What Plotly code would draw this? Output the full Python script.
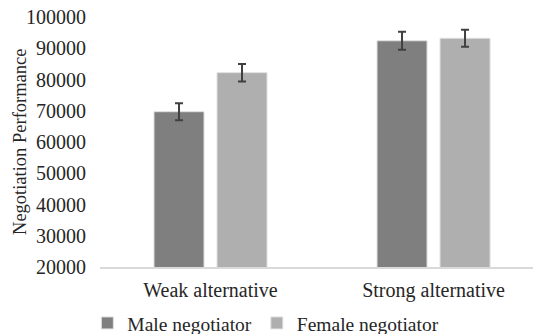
import plotly.graph_objects as go

categories = ["Weak alternative", "Strong alternative"]
male_values = [69700, 92400]
male_errors = [2700, 2900]
female_values = [82200, 93200]
female_errors = [2800, 2700]
y_ticks = [20000, 30000, 40000, 50000, 60000, 70000, 80000, 90000, 100000]
y_title = "Negotiation Performance"

FAM = "Liberation Serif"
font = dict(family=FAM, size=20, color="#262626")
legend_font = dict(family=FAM, size=19.5, color="#262626")
title_font = dict(family=FAM, size=18.5, color="#262626")

fig = go.Figure()
fig.add_trace(go.Bar(
    name="Male negotiator", x=categories, y=male_values,
    marker=dict(color="#7f7f7f", line=dict(color="#e0e0e0", width=1)),
    error_y=dict(type="data", array=male_errors, color="#404040", thickness=2, width=4),
))
fig.add_trace(go.Bar(
    name="Female negotiator", x=categories, y=female_values,
    marker=dict(color="#afafaf", line=dict(color="#e0e0e0", width=1)),
    error_y=dict(type="data", array=female_errors, color="#404040", thickness=2, width=4),
))

fig.add_annotation(text=y_title, xref="paper", yref="paper", x=-0.1848, y=0.5,
                   xanchor="center", yanchor="middle", textangle=-90, showarrow=False,
                   font=title_font)

fig.update_layout(
    width=533, height=334,
    margin=dict(l=100, r=0, t=17, b=67, autoexpand=False),
    paper_bgcolor="white", plot_bgcolor="white",
    font=font,
    barmode="group", bargap=0.435, bargroupgap=0.206,
    showlegend=True,
    legend=dict(orientation="h", x=0.383, xanchor="center", y=-0.225, yanchor="middle",
                font=legend_font, itemwidth=30, tracegroupgap=0),
    xaxis=dict(range=[-0.4955, 1.446], showline=True, linecolor="#d9d9d9", linewidth=1.5,
               ticks="", showgrid=False, tickfont=font, automargin=False, ticklabelstandoff=4),
    yaxis=dict(range=[20000, 100000], tickvals=y_ticks, ticktext=[str(v) for v in y_ticks],
               showgrid=False, zeroline=False, showline=False, ticks="", ticklabelstandoff=13,
               tickfont=font, automargin=False),
)

fig.write_html("out.html", config={"displayModeBar": False},
               post_script="document.body.style.margin='0';document.body.style.padding='0';")
